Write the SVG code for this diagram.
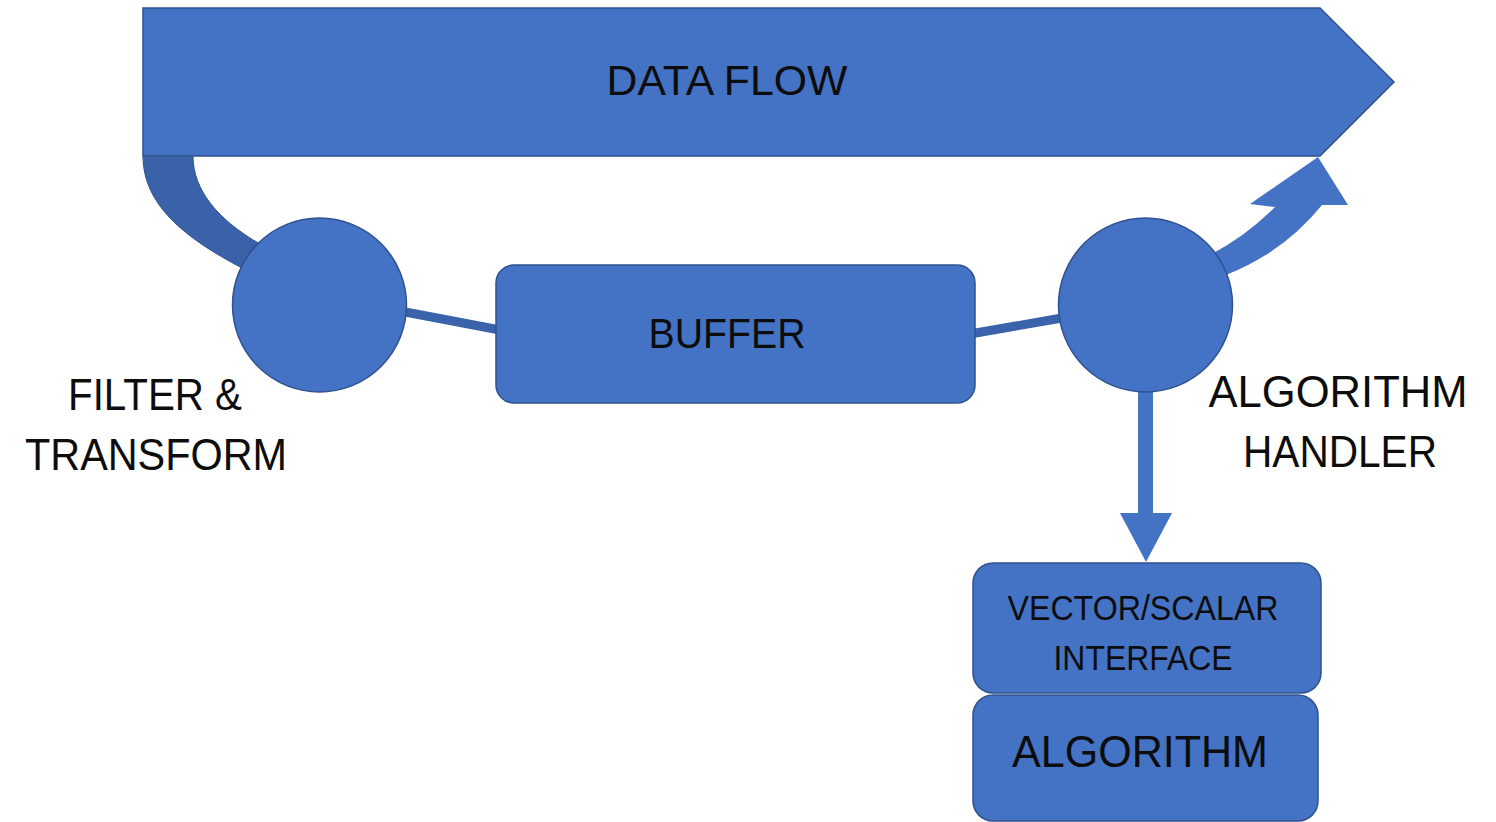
<svg xmlns="http://www.w3.org/2000/svg" width="1496" height="822" viewBox="0 0 1496 822">
<style>
.shape{fill:#4472C4;stroke:#2F528F;stroke-width:1.5}
.conn{fill:none;stroke:#3B63AB;stroke-width:9}
.band{fill:#3A62A8;stroke:#2F528F;stroke-width:1}
.arrow{fill:#4472C4;stroke:none}
.t{font-family:"Liberation Sans",Arial,sans-serif;fill:#0d0d0d}
</style>
<rect x="0" y="0" width="1496" height="822" fill="#ffffff"/>
<g id="data-flow">
<polygon class="shape" points="143,8 1320,8 1394,82 1320,156 143,156"/>
<text class="t" x="727" y="95" font-size="43" text-anchor="middle" textLength="241" lengthAdjust="spacingAndGlyphs">DATA FLOW</text>
</g>
<g id="connectors">
<path class="band" d="M143,156 C143,205 185,238 242,268 L260,244 C218,220 193,190 193,156 Z"/>
<line class="conn" x1="400" y1="311" x2="500" y2="330"/>
<line class="conn" x1="970" y1="334" x2="1062" y2="318"/>
<path class="arrow" d="M1210,255 Q1246,236 1275,207 L1250,204 L1318,157 L1348,205 L1322,205 Q1284,252 1226,275 Z"/>
<rect class="arrow" x="1138" y="385" width="15" height="130"/>
<polygon class="arrow" points="1120,513 1172,513 1146,562"/>
</g>
<g id="filter-transform">
<circle class="shape" cx="319.5" cy="305" r="87"/>
<text class="t" x="155" y="410" font-size="44" text-anchor="middle" textLength="174" lengthAdjust="spacingAndGlyphs">FILTER &amp;</text>
<text class="t" x="156" y="470" font-size="44" text-anchor="middle" textLength="262" lengthAdjust="spacingAndGlyphs">TRANSFORM</text>
</g>
<g id="buffer">
<rect class="shape" x="496" y="265" width="479" height="138" rx="18"/>
<text class="t" x="727" y="348" font-size="42" text-anchor="middle" textLength="157" lengthAdjust="spacingAndGlyphs">BUFFER</text>
</g>
<g id="algorithm-handler">
<circle class="shape" cx="1145.5" cy="305" r="87"/>
<text class="t" x="1338" y="407" font-size="44" text-anchor="middle" textLength="259" lengthAdjust="spacingAndGlyphs">ALGORITHM</text>
<text class="t" x="1340" y="467" font-size="44" text-anchor="middle" textLength="194" lengthAdjust="spacingAndGlyphs">HANDLER</text>
</g>
<g id="vector-scalar-interface">
<rect class="shape" x="973" y="563" width="348" height="130" rx="20"/>
<text class="t" x="1143" y="620" font-size="35" text-anchor="middle" textLength="271" lengthAdjust="spacingAndGlyphs">VECTOR/SCALAR</text>
<text class="t" x="1143" y="670" font-size="35" text-anchor="middle" textLength="179" lengthAdjust="spacingAndGlyphs">INTERFACE</text>
</g>
<g id="algorithm">
<rect class="shape" x="973" y="695" width="345" height="126" rx="20"/>
<text class="t" x="1140" y="767" font-size="45" text-anchor="middle" textLength="256" lengthAdjust="spacingAndGlyphs">ALGORITHM</text>
</g>
</svg>
